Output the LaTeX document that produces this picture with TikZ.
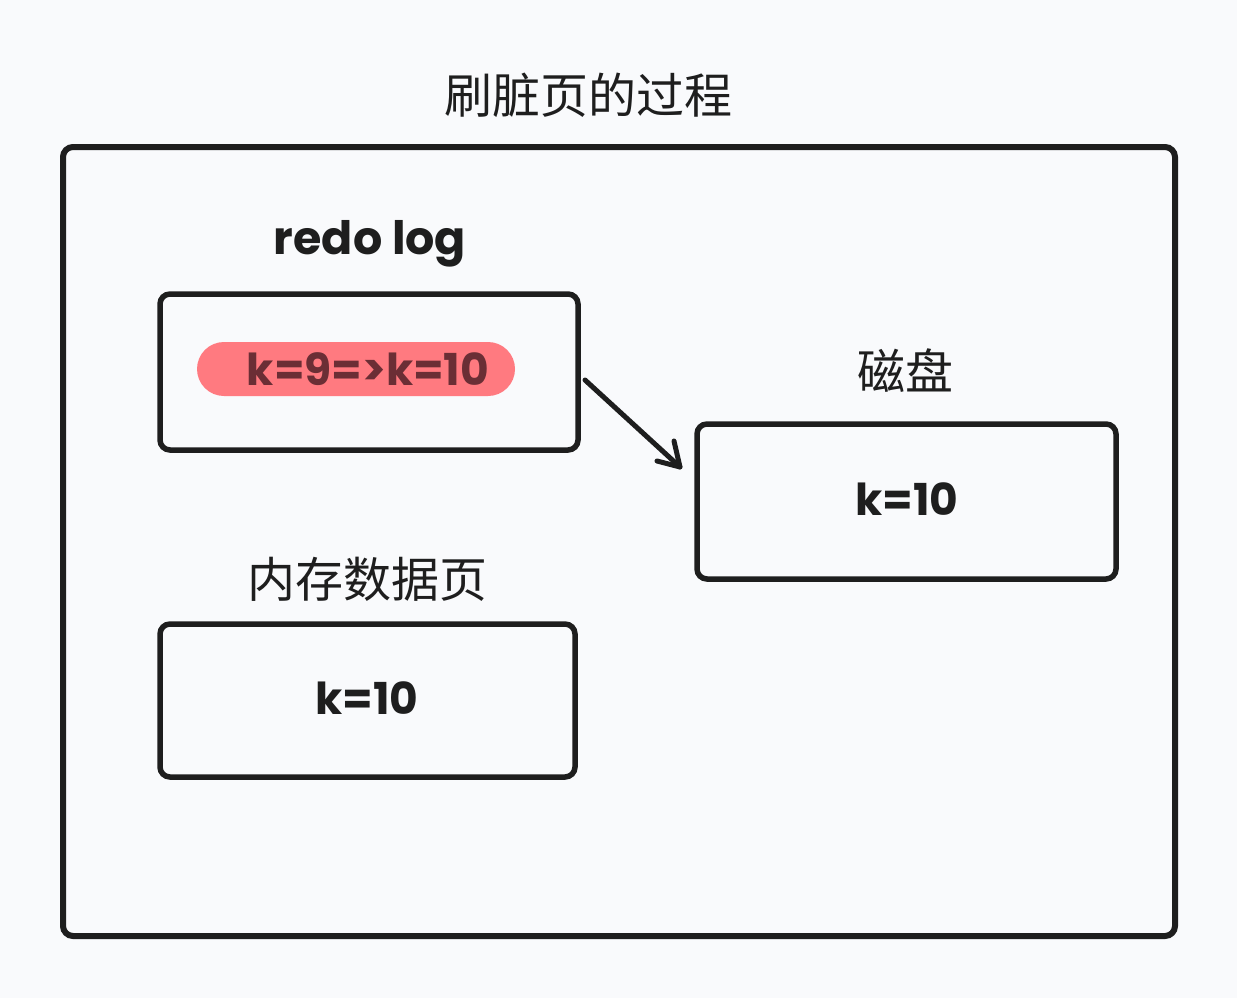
\documentclass[tikz,border=0pt]{standalone}
\usepackage{fontspec}
\newfontfamily\cjk{Noto Sans CJK SC}
\newfontfamily\hand{Poppins}
\definecolor{bg}{HTML}{F9FAFC}
\definecolor{ink}{HTML}{1E1E1E}
\definecolor{hl}{HTML}{FF7A80}
\definecolor{maroon}{HTML}{6B2E35}
\begin{document}
\begin{tikzpicture}[x=1pt,y=-1pt,
  frame/.style={draw=ink,line width=6pt,rounded corners=10pt},
  box/.style={draw=ink,line width=5.5pt,rounded corners=10pt,inner sep=0pt,outer sep=0pt},
  cjklabel/.style={font=\cjk\fontsize{48}{56}\selectfont,text=ink},
  handlabel/.style={font=\hand\bfseries\fontsize{46}{52}\selectfont,text=ink},
  val/.style={font=\hand\bfseries\fontsize{44}{50}\selectfont,text=ink},
  conn/.style={draw=ink,line width=5pt,line cap=round,line join=round}]
\fill[bg] (0,0) rectangle (1237,998);
\useasboundingbox (0,0) rectangle (1237,998);
\node[cjklabel] (title) at (588,95) {刷脏页的过程};
\node[frame,minimum width=1112pt,minimum height=789pt,inner sep=0pt] (outer) at (619,541.5) {};
\node[handlabel] (redolbl) at (370,244) {redo log};
\node[box,minimum width=418pt,minimum height=156pt] (redo) at (369,372) {};
\node[fill=hl,rounded corners=27pt,minimum width=318pt,minimum height=54pt,inner sep=0pt] (hlbar) at (356,369) {};
\node[val,text=maroon] (redoval) at (368,369) {k=9=>k=10};
\node[cjklabel] (disklbl) at (905,371) {磁盘};
\node[box,minimum width=419pt,minimum height=155pt] (disk) at (906.5,501.5) {};
\node[val] (diskval) at (907,499) {k=10};
\node[cjklabel] (memlbl) at (367,579) {内存数据页};
\node[box,minimum width=415pt,minimum height=153pt] (mem) at (367.5,700.5) {};
\node[val] (memval) at (367,698) {k=10};
\coordinate (a1) at (585,380);
\coordinate (a2) at (680,467);
\draw[conn] (a1) -- (a2);
\draw[conn] (657,461) -- (a2) -- (674,441);
\end{tikzpicture}
\end{document}
